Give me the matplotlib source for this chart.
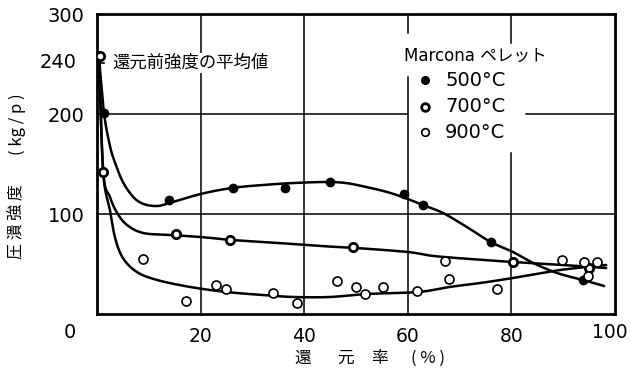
import matplotlib.pyplot as plt
import numpy as np

plt.rcParams['font.family'] = ['DejaVu Sans', 'Noto Sans CJK JP']

# 測定点 (還元率 %, 圧潰強度 kg/p)
x500 = [1.35, 13.9, 26.2, 36.3, 45.0, 59.3, 62.9, 76.0, 93.8]
y500 = [201, 114, 126, 126, 132, 120, 109, 72, 34]

x700 = [1.2, 15.3, 25.7, 49.4, 80.3, 95.0]
y700 = [142, 80, 74, 67, 52, 46]

x900 = [8.9, 17.2, 23.0, 24.9, 34.0, 38.6, 46.3, 50.0, 51.7, 55.2,
        61.8, 67.2, 67.9, 77.2, 89.8, 94.0, 96.5, 94.8]
y900 = [55, 13, 29, 25, 21, 11, 33, 27, 20, 27,
        23, 53, 35, 25, 54, 52, 52, 38]

# 還元前強度の平均値
pre_x = [0.6]
pre_y = [258]
pre_level = 251

# 平滑曲線 (図から読んだ点)
c500_x = [0.4, 1.35, 2.5, 3.5, 5.0, 7.0, 9.0, 11.6, 14.0, 20.0, 26.0, 32.0, 38.0,
          44.0, 48.0, 52.0, 56.0, 59.5, 62.9, 66.8, 71.4, 76.0, 80.3, 84.2, 88.8,
          93.8, 97.9]
c500_y = [255, 201, 168, 151, 132, 117, 110, 108, 111, 120, 126, 129, 131,
          132, 131, 127, 122, 116, 109, 101, 87, 72, 62, 51, 41, 34, 28]

c700_x = [0.4, 1.2, 2.5, 3.9, 5.8, 8.9, 14.0, 20.0, 26.0, 35.0, 43.0, 50.0,
          60.0, 65.0, 72.0, 80.3, 90.0, 98.3]
c700_y = [255, 142, 117, 101, 89, 81, 79, 77, 74, 71, 68, 66, 62, 58, 55, 52, 49, 46]

c900_x = [0.4, 1.2, 2.5, 3.5, 5.0, 7.7, 11.6, 18.0, 25.0, 32.0, 38.0, 45.0, 52.0,
          62.0, 68.0, 74.0, 80.3, 89.4, 98.3]
c900_y = [255, 142, 104, 76, 56, 42, 34, 27, 22, 19, 17, 17, 20, 22, 27, 31, 36, 44, 49]

xticks = [20, 40, 60, 80, 100]
xtick_labels = ["20", "40", "60", "80", ""]
yticks = [100, 200, 300]


def smooth(xs, ys, n=12):
    # Catmull-Rom で点を滑らかにつなぐ
    p = np.column_stack([xs, ys]).astype(float)
    p = np.vstack([p[0], p, p[-1]])
    out = []
    t = np.linspace(0, 1, n, endpoint=False)[:, None]
    for i in range(1, len(p) - 2):
        p0, p1, p2, p3 = p[i - 1], p[i], p[i + 1], p[i + 2]
        seg = 0.5 * ((2 * p1) + (-p0 + p2) * t + (2 * p0 - 5 * p1 + 4 * p2 - p3) * t ** 2
                     + (-p0 + 3 * p1 - 3 * p2 + p3) * t ** 3)
        out.append(seg)
    out.append(p[-2][None, :])
    out = np.vstack(out)
    return out[:, 0], out[:, 1]


fig = plt.figure(figsize=(6.31, 3.73), dpi=100)
ax = fig.add_axes([97 / 631, 1 - 314 / 373, 518 / 631, 300 / 373])
ax.set_xlim(0, 100)
ax.set_ylim(0, 300)

# グリッド (凡例の部分は切れている)
grid_v = [(20, 0, 300), (40, 0, 300), (60, 0, 237), (60, 281, 300),
          (80, 0, 161), (80, 271, 300)]
grid_h = [(100, 0, 100), (200, 0, 59.8), (200, 82.8, 100)]
for gx, y0, y1 in grid_v:
    ax.plot([gx, gx], [y0, y1], color='black', lw=1.1, zorder=1)
for gy, x0, x1 in grid_h:
    ax.plot([x0, x1], [gy, gy], color='black', lw=1.1, zorder=1)

for cx, cy in [(c500_x, c500_y), (c700_x, c700_y), (c900_x, c900_y)]:
    sx, sy = smooth(cx, cy)
    ax.plot(sx, sy, color='black', lw=1.8, zorder=2, solid_capstyle='round')

ax.plot(x500, y500, 'o', ms=6, mfc='black', mec='black', zorder=3)
ax.plot(x700, y700, 'o', ms=6, mfc='white', mec='black', mew=2.0, zorder=3)
ax.plot(x900, y900, 'o', ms=6.5, mfc='white', mec='black', mew=1.2, zorder=3)
ax.plot(pre_x, pre_y, 'o', ms=6, mfc='white', mec='black', mew=2.0, zorder=3)
ax.plot([0, 1.3], [pre_level, pre_level], color='black', lw=1.2, zorder=2)

ax.text(3.0, pre_level, "還元前強度の平均値", fontsize=12.5, va='center',
        family=['Noto Sans CJK JP'], zorder=4,
        bbox=dict(facecolor='white', edgecolor='none', pad=1))

# 凡例
ax.text(59.3, 258, "Marcona ペレット", fontsize=12, va='center',
        family=['DejaVu Sans', 'Noto Sans CJK JP'])
legend_rows = [("500°C", 234), ("700°C", 207), ("900°C", 182)]
legend_style = [dict(mfc='black', mec='black', mew=1),
                dict(mfc='white', mec='black', mew=2.0),
                dict(mfc='white', mec='black', mew=1.2)]
for (lab, ly), st in zip(legend_rows, legend_style):
    ax.plot([63.3], [ly], 'o', ms=5.5, **st)
    ax.text(67.2, ly, lab, fontsize=14, va='center')

for s in ax.spines.values():
    s.set_linewidth(2)
ax.set_xticks(xticks)
ax.set_xticklabels(xtick_labels, fontsize=13.5)
ax.set_yticks(yticks)
ax.set_yticklabels([str(v) for v in yticks], fontsize=14)
ax.tick_params(length=0, pad=9)
ax.text(102.5, -19, "100", fontsize=13.5, ha='right', va='center', clip_on=False)
ax.text(-4, pre_level, "240", fontsize=14, ha='right', va='center')
ax.text(-4, -19, "0", fontsize=14, ha='right', va='center')

# 軸ラベル
xlabel_parts = [("還", 303), ("元", 345), ("率", 380), ("( % )", 428)]
for txt, px in xlabel_parts:
    fig.text(px / 631, 1 - 358 / 373, txt, fontsize=12, ha='center', va='center',
             family=['Noto Sans CJK JP'])
fig.text(17 / 631, 1 - 124 / 373, "( kg / p )", fontsize=12,
         ha='center', va='center', rotation=90, family=['Noto Sans CJK JP'])
fig.text(17 / 631, 1 - 222 / 373, "圧 潰 強 度", fontsize=11.5,
         ha='center', va='center', rotation=90, family=['Noto Sans CJK JP'])

fig.savefig("out.png", dpi=100)
